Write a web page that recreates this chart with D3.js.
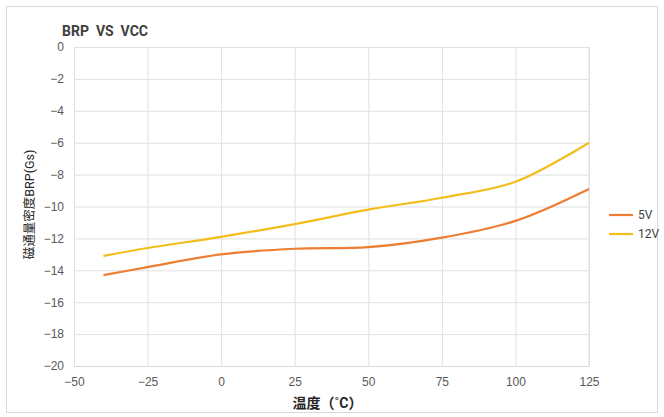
<!DOCTYPE html>
<html>
<head>
<meta charset="utf-8">
<script src="https://cdn.jsdelivr.net/npm/d3@7"></script>
<style>
  body { margin: 0; background: #fff; }
  svg { font-family: Roboto, "Noto Sans CJK SC", sans-serif; }
  .tick text { fill: #595959; font-size: 12px; }
  .grid line { stroke: #e0e0e0; }
  .grid path { display: none; }
</style>
</head>
<body>
<div id="chart"></div>
<script>
// chart data
const temps = [-40, -25, 0, 25, 50, 75, 100, 125];
const brp5V = [-14.3, -13.8, -13.0, -12.65, -12.55, -11.95, -10.9, -8.9];
const brp12V = [-13.1, -12.6, -11.9, -11.1, -10.2, -9.45, -8.45, -6.0];
const seriesNames = ["5V", "12V"];
const seriesColors = ["#ED7D31", "#F2BE1B"];
const xTicks = [-50, -25, 0, 25, 50, 75, 100, 125];
const yTicks = [0, -2, -4, -6, -8, -10, -12, -14, -16, -18, -20];

const svgWidth = 664;
const svgHeight = 417;
const margin = { top: 47, right: 75, bottom: 51, left: 74 };
const chartWidth = svgWidth - margin.left - margin.right;
const chartHeight = svgHeight - margin.top - margin.bottom;

const svg = d3.select("#chart")
  .append("svg")
  .attr("width", svgWidth)
  .attr("height", svgHeight);

// outer frame
svg.append("rect")
  .attr("x", 6.5).attr("y", 6.5)
  .attr("width", svgWidth - 13).attr("height", svgHeight - 11)
  .attr("fill", "none")
  .attr("stroke", "#d9d9d9");

const g = svg.append("g")
  .attr("transform", `translate(${margin.left}, ${margin.top})`);

const x = d3.scaleLinear().domain([-50, 125]).range([0, chartWidth]);
const y = d3.scaleLinear().domain([-20, 0]).range([chartHeight, 0]);

// gridlines
g.append("g")
  .attr("class", "grid")
  .call(d3.axisLeft(y).tickValues(yTicks).tickSize(-chartWidth).tickFormat(""));
g.append("g")
  .attr("class", "grid")
  .attr("transform", `translate(0, ${chartHeight})`)
  .call(d3.axisBottom(x).tickValues(xTicks).tickSize(-chartHeight).tickFormat(""));
g.append("line")
  .attr("x1", chartWidth).attr("x2", chartWidth)
  .attr("y1", 0).attr("y2", chartHeight)
  .attr("stroke", "#e0e0e0");

// axes (labels only)
const xAxis = g.append("g")
  .attr("transform", `translate(0, ${chartHeight})`)
  .call(d3.axisBottom(x).tickValues(xTicks).tickSize(0).tickPadding(11));
xAxis.select(".domain").attr("stroke", "#d9d9d9");

const yAxis = g.append("g")
  .call(d3.axisLeft(y).tickValues(yTicks).tickSize(0).tickPadding(10));
yAxis.select(".domain").remove();
g.selectAll(".tick text").style("font-weight", "500");

// lines
const seriesData = [brp5V, brp12V];
const line = d3.line()
  .x((d, i) => x(temps[i]))
  .y(d => y(d))
  .curve(d3.curveCatmullRom.alpha(0.5));

seriesData.forEach((vals, k) => {
  g.append("path")
    .datum(vals)
    .attr("fill", "none")
    .attr("stroke", seriesColors[k])
    .attr("stroke-width", 2.2)
    .attr("d", line);
});

// title
svg.append("text")
  .attr("x", 62).attr("y", 36)
  .style("font-size", "14px")
  .style("font-weight", "bold")
  .style("white-space", "pre")
  .attr("fill", "#404040")
  .text("BRP  VS  VCC");

// axis titles
svg.append("text")
  .attr("transform", `translate(${margin.left + chartWidth / 2 - 4}, 408)`)
  .attr("text-anchor", "middle")
  .style("font-size", "14px")
  .style("font-weight", "bold")
  .attr("fill", "#262626")
  .text("温度（˚C）");

svg.append("text")
  .attr("transform", `translate(34, ${margin.top + chartHeight / 2 - 2}) rotate(-90)`)
  .attr("text-anchor", "middle")
  .style("font-size", "12.5px")
  .attr("fill", "#262626")
  .text("磁通量密度BRP(Gs)");

// legend
const legend = svg.append("g").attr("transform", "translate(609, 215)");
seriesNames.forEach((name, k) => {
  const row = legend.append("g").attr("transform", `translate(0, ${k * 19})`);
  row.append("line")
    .attr("x1", 0).attr("x2", 24)
    .attr("stroke", seriesColors[k])
    .attr("stroke-width", 2.2);
  row.append("text")
    .attr("x", 29).attr("dy", "0.35em")
    .style("font-size", "12px")
    .attr("fill", "#404040")
    .text(name);
});
</script>
</body>
</html>
